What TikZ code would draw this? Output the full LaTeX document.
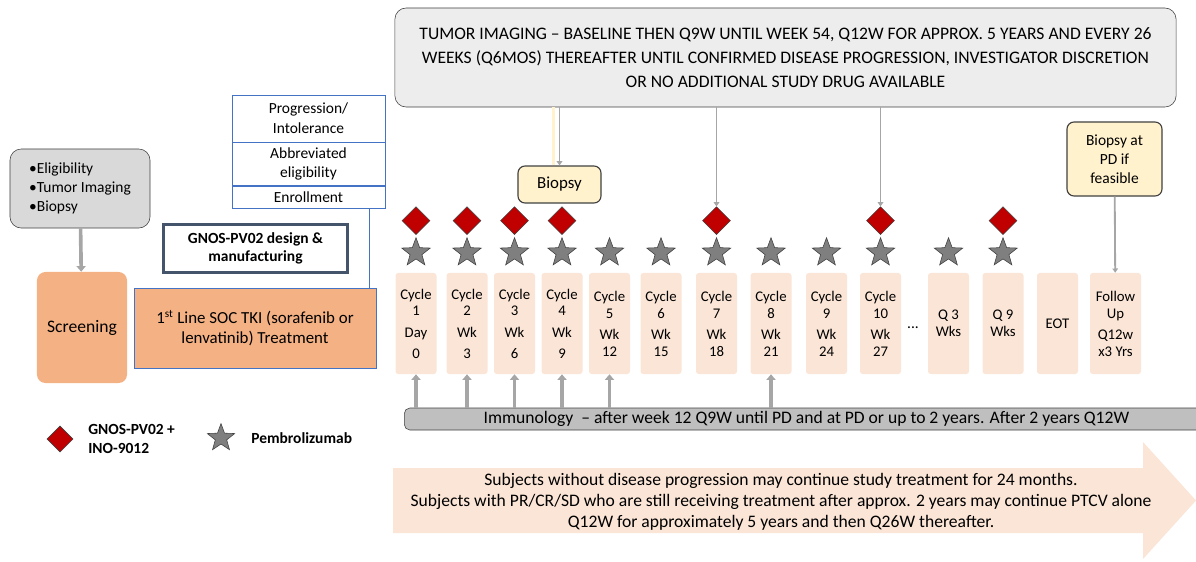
\documentclass[tikz,border=0pt]{standalone}
\usepackage{fontspec}
\setmainfont{Carlito}
\usepackage{tikz}
\usetikzlibrary{shapes.geometric,arrows.meta,positioning,calc}
\definecolor{peach}{RGB}{251,229,214}
\definecolor{salmon}{RGB}{244,177,131}
\definecolor{boxGrey}{RGB}{217,217,217}
\definecolor{barGrey}{RGB}{191,191,191}
\definecolor{imgGrey}{RGB}{237,237,237}
\definecolor{lineGrey}{RGB}{166,166,166}
\definecolor{edgeBlue}{RGB}{68,114,196}
\definecolor{slate}{RGB}{68,84,106}
\definecolor{paleYellow}{RGB}{255,242,204}
\definecolor{doseRed}{RGB}{192,0,0}
\definecolor{starGrey}{RGB}{127,127,127}
\definecolor{edgeDark}{RGB}{64,64,64}
\tikzset{
  cyc/.style={fill=peach,rounded corners=2pt,minimum width=1.025cm,minimum height=2.525cm,
              inner sep=1pt,font=\fontsize{10.5}{12}\selectfont,align=center},
  orng/.style={fill=salmon,align=center,font=\fontsize{12}{14.5}\selectfont},
  bbox/.style={draw=edgeBlue,fill=white,minimum width=3.825cm,inner sep=1pt,
               font=\fontsize{11}{14}\selectfont,align=center},
  note/.style={draw=edgeDark,fill=paleYellow,rounded corners=5pt,thick,align=center},
  dose/.style={diamond,aspect=1,draw=edgeDark,fill=doseRed,minimum size=0.7cm,inner sep=0pt},
  pemb/.style={star,star points=5,star point ratio=2.4,draw=edgeDark,fill=starGrey,
               minimum size=0.75cm,inner sep=0pt},
  garr/.style={-{Triangle[width=4pt,length=3pt]},lineGrey,line width=1.3pt},
  fat/.style={-{Triangle[width=6.5pt,length=4pt]},lineGrey,line width=2.6pt},
}
\begin{document}
\begin{tikzpicture}[x=0.025cm,y=-0.025cm,node distance=0pt]
  \useasboundingbox (0,0) rectangle (1196,561);

  \node[draw=edgeDark,fill=imgGrey,rounded corners=8pt,minimum width=19.525cm,minimum height=2.475cm,
        align=center,font=\fontsize{12.5}{17}\selectfont] (img) at (785.5,57.5)
        {TUMOR IMAGING – BASELINE THEN Q9W UNTIL WEEK 54, Q12W FOR APPROX. 5 YEARS AND EVERY 26\\
         WEEKS (Q6MOS) THEREAFTER UNTIL CONFIRMED DISEASE PROGRESSION, INVESTIGATOR DISCRETION\\
         OR NO ADDITIONAL STUDY DRUG AVAILABLE};

  \node[draw=edgeDark,fill=boxGrey,rounded corners=8pt,minimum width=3.5cm,minimum height=1.975cm,
        align=left,font=\fontsize{11}{13.5}\selectfont] (elig) at (80,188.5) {•Eligibility\\•Tumor Imaging\\•Biopsy};
  \node[orng,rounded corners=6pt,minimum width=2.25cm,minimum height=2.775cm,font=\fontsize{12.5}{15}\selectfont]
        (scr) at (82,327.5) {Screening};

  \node[bbox,minimum height=1.175cm]             (prog) at (308.5,118.5) {Progression/\\Intolerance};
  \node[bbox,minimum height=1.075cm,below=of prog] (abbr) {Abbreviated\\eligibility};
  \node[bbox,minimum height=0.55cm,below=of abbr]  (enr)  {Enrollment};

  \node[draw=slate,line width=2pt,minimum width=4.6cm,minimum height=1.2cm,align=center,
        font=\bfseries\fontsize{11}{12.5}\selectfont] (gnos) at (255.5,248.5) {GNOS-PV02 design \&\\manufacturing};
  \node[orng,draw=edgeBlue,minimum width=6.05cm,minimum height=2cm] (tki) at (255,328)
        {1\textsuperscript{st} Line SOC TKI (sorafenib or\\lenvatinib) Treatment};

  \node[cyc] (c1)  at (416,323.5)  {Cycle\\1\\[3pt]Day\\[3pt]0};
  \node[cyc] (c2)  at (467,323.5)  {Cycle\\2\\[3pt]Wk\\[3pt]3};
  \node[cyc] (c3)  at (514.5,323.5){Cycle\\3\\[3pt]Wk\\[3pt]6};
  \node[cyc] (c4)  at (562,323.5)  {Cycle\\4\\[3pt]Wk\\[3pt]9};
  \node[cyc] (c5)  at (609.5,323.5){Cycle\\5\\[3pt]Wk\\12};
  \node[cyc] (c6)  at (661,323.5)  {Cycle\\6\\[3pt]Wk\\15};
  \node[cyc] (c7)  at (716.5,323.5){Cycle\\7\\[3pt]Wk\\18};
  \node[cyc] (c8)  at (771,323.5)  {Cycle\\8\\[3pt]Wk\\21};
  \node[cyc] (c9)  at (826.5,323.5){Cycle\\9\\[3pt]Wk\\24};
  \node[cyc] (c10) at (880.5,323.5){Cycle\\10\\[3pt]Wk\\27};
  \node[font=\fontsize{11}{12}\selectfont] (dots) at (913,328) {...};
  \node[cyc] (q3)  at (948.5,323.5){Q 3\\Wks};
  \node[cyc] (q9)  at (1003,323.5) {Q 9\\Wks};
  \node[cyc] (eot) at (1057.5,323.5){EOT};
  \node[cyc,minimum width=1.275cm] (fu) at (1115.5,323.5) {Follow\\Up\\[3pt]Q12w\\x3 Yrs};

  \node[pemb] (s1)  at ([yshift=0.5cm]c1.north)  {};
  \node[pemb] (s2)  at ([yshift=0.5cm]c2.north)  {};
  \node[pemb] (s3)  at ([yshift=0.5cm]c3.north)  {};
  \node[pemb] (s4)  at ([yshift=0.5cm]c4.north)  {};
  \node[pemb] (s5)  at ([yshift=0.5cm]c5.north)  {};
  \node[pemb] (s6)  at ([yshift=0.5cm]c6.north)  {};
  \node[pemb] (s7)  at ([yshift=0.5cm]c7.north)  {};
  \node[pemb] (s8)  at ([yshift=0.5cm]c8.north)  {};
  \node[pemb] (s9)  at ([yshift=0.5cm]c9.north)  {};
  \node[pemb] (s10) at ([yshift=0.5cm]c10.north) {};
  \node[pemb] (s11) at ([yshift=0.5cm]q3.north)  {};
  \node[pemb] (s12) at ([yshift=0.5cm]q9.north)  {};

  \node[dose] (d1)  at ([yshift=1.3cm]c1.north)  {};
  \node[dose] (d2)  at ([yshift=1.3cm]c2.north)  {};
  \node[dose] (d3)  at ([yshift=1.3cm]c3.north)  {};
  \node[dose] (d4)  at ([yshift=1.3cm]c4.north)  {};
  \node[dose] (d7)  at ([yshift=1.3cm]c7.north)  {};
  \node[dose] (d10) at ([yshift=1.3cm]c10.north) {};
  \node[dose] (d12) at ([yshift=1.3cm]q9.north)  {};

  \node[note,minimum width=2.075cm,minimum height=0.925cm,font=\fontsize{12}{14}\selectfont] (bx) at (559.5,184.5) {Biopsy};
  \node[note,minimum width=2.375cm,minimum height=1.85cm,font=\fontsize{11}{13.5}\selectfont] (pd) at (1114.5,159)
        {Biopsy at\\PD if\\feasible};

  \node[draw=edgeDark,fill=barGrey,rounded corners=4pt,minimum width=20.1cm,minimum height=0.55cm,inner sep=0pt,
        anchor=west,font=\fontsize{12.5}{13}\selectfont] (imm) at (404,419)
        {Immunology \ – after week 12 Q9W until PD and at PD or up to 2 years. After 2 years Q12W};

  \fill[peach] (393,468) -- (1143,468) -- (1143,442) -- (1196,500.5) -- (1143,559) -- (1143,533) -- (393,533) -- cycle;
  \node[align=center,font=\fontsize{12.5}{15}\selectfont] (cont) at (781,502)
        {Subjects without disease progression may continue study treatment for 24 months.\\
         Subjects with PR/CR/SD who are still receiving treatment after approx. 2 years may continue PTCV alone\\
         Q12W for approximately 5 years and then Q26W thereafter.};

  \node[dose,minimum size=0.65cm] (ld) at (60,439) {};
  \node[right=0.25cm of ld,align=left,font=\bfseries\fontsize{11}{13.5}\selectfont] (ldt) {GNOS-PV02 +\\INO-9012};
  \node[pemb,minimum size=0.72cm] (ls) at (221,438) {};
  \node[right=0.42cm of ls,font=\bfseries\fontsize{11}{13.5}\selectfont] (lst) {Pembrolizumab};

  \coordinate (tk) at ([xshift=-0.175cm]tki.north east);
  \coordinate (by) at ([xshift=-0.15cm]bx.north);
  \draw[fat](elig)--(scr);
  \draw[edgeBlue,line width=0.8pt](tk)--(tk |- enr.south);
  \draw[paleYellow,line width=2.5pt](by)--(by |- img.south);
  \draw[garr](img.south -| bx.north)--(bx.north);
  \draw[garr](img.south -| d7.north)--(d7.north);
  \draw[garr](img.south -| d10.north)--(d10.north);
  \draw[garr](pd)--(fu);
  \draw[fat](imm.north -| c1.south)--(c1.south);
  \draw[fat](imm.north -| c2.south)--(c2.south);
  \draw[fat](imm.north -| c3.south)--(c3.south);
  \draw[fat](imm.north -| c4.south)--(c4.south);
  \draw[fat](imm.north -| c5.south)--(c5.south);
  \draw[fat](imm.north -| c8.south)--(c8.south);
\end{tikzpicture}
\end{document}
